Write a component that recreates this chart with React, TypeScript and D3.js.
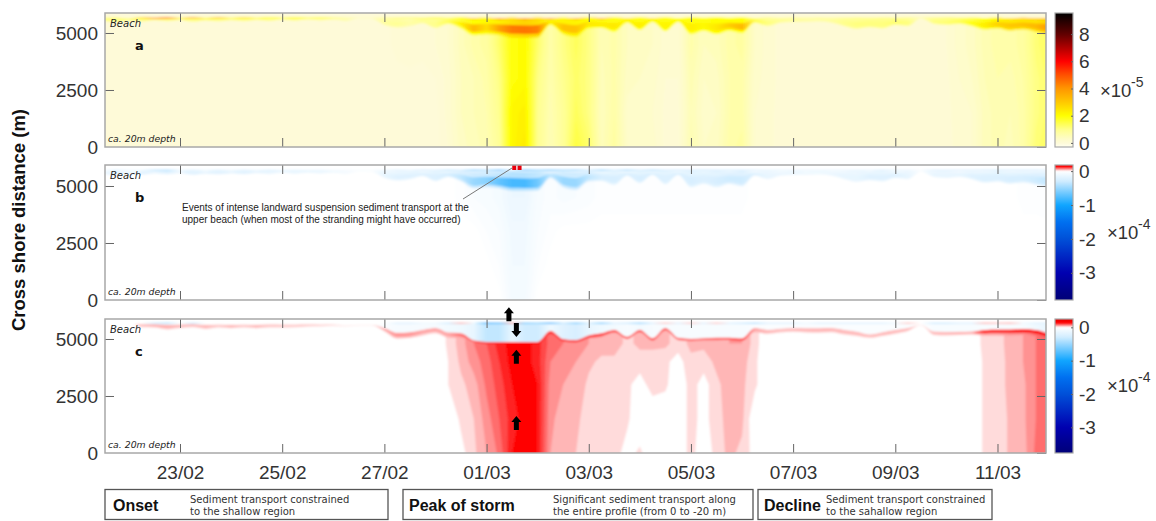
import React, { useEffect, useRef } from 'react';
import * as d3 from 'd3';

// every array below holds one value per 6 h sample, 21/02 12:00 -> 12/03 00:00 (75 samples)
const times = d3.utcHour.range(new Date(Date.UTC(2014, 1, 21, 12)), new Date(Date.UTC(2014, 2, 12, 6)), 6);
const tickDates = [[1, 23], [1, 25], [1, 27], [2, 1], [2, 3], [2, 5], [2, 7], [2, 9], [2, 11]].map(([m, d]) => new Date(Date.UTC(2014, m, d)));
const yTicks = [0, 2500, 5000];

// panel a, x10^-5, by depth row
const a0 = [
  0,0,0,0,0,0,0,0,0,0,0,0,0,0,0,
  0,0,0,0,0,0,0,0,0,0,0,0,.15,.4,.5,
  .6,.9,2.2,2.4,1,.55,.9,1.6,1.3,.5,.8,.35,.3,.3,.12,
  .12,.6,.35,.4,.7,.8,.25,.2,.1,.08,.08,.08,.08,.08,.08,
  .08,.08,.08,.08,.08,.1,.1,.2,.25,.5,.6,.5,.7,1.2,1.4];
const a1500 = [
  0,0,0,0,0,0,0,0,0,0,0,0,0,0,0,
  0,0,0,0,0,0,0,0,0,0,0,0,.2,.45,.55,
  .65,1,2.2,2.3,1,.6,.9,1.4,1.1,.45,.75,.3,.3,.25,.12,
  .12,.55,.3,.35,.65,.7,.25,.2,.1,.08,.08,.08,.08,.08,.08,
  .08,.08,.08,.08,.08,.1,.12,.2,.25,.5,.6,.55,.7,1.1,1.3];
const a3000 = [
  0,0,0,0,0,0,0,0,0,0,0,0,0,0,0,
  0,0,0,0,0,0,0,0,0,0,0,.05,.2,.45,.55,
  .7,1.1,2,2.1,1.1,.65,1,1.3,1.1,.5,.7,.4,.35,.3,.15,
  .15,.6,.35,.4,.65,.7,.3,.2,.12,.1,.08,.08,.08,.08,.08,
  .08,.08,.08,.08,.08,.1,.12,.25,.35,.55,.65,.6,.75,1.1,1.3];
const a4500 = [
  0,0,0,0,0,0,0,0,0,0,0,0,0,0,0,
  0,0,0,0,0,0,0,0,.1,.15,.1,.15,.25,.5,.7,
  .8,1.3,2,2.1,1.3,.7,1.1,1.4,1.1,.55,.7,.45,.4,.35,.2,
  .2,.7,.45,.5,.7,.8,.35,.2,.12,.1,.1,.1,.1,.1,.1,
  .1,.1,.1,.1,.08,.12,.15,.3,.4,.6,.7,.7,.8,1.2,1.4];
const aBand = [
  .8,1,.9,.9,.9,.9,.9,.9,.9,.9,.9,.9,.9,.9,.9,
  .9,.8,.8,.7,.5,.3,.3,.7,.7,.6,.8,.9,1.1,1.6,2,
  2.1,2.3,2.6,2.8,2.6,1.9,2.2,2.2,2,1.9,1.9,1.9,1.9,1.9,1.9,
  1.9,1.9,1.9,2,2,2,1.2,.9,.8,.7,.6,.6,.7,.9,.9,
  1,1,1,.9,.3,.9,1,1.1,1.5,1.9,2.2,2.4,2.4,2.5,2.8];
const aCore = [
  1.1,1.1,1.1,1.1,1.1,1.1,1.1,1.1,1.1,1.1,1.1,1.1,1.1,1.1,1.1,
  1.1,1,1,.8,.6,.3,.3,.8,.9,.7,.9,1,1.4,2.2,3.3,
  2.6,3.8,4.4,4.5,4.3,2.2,3.1,3.1,2.4,2.3,2.4,2.1,2.3,2,2.2,
  2,2.3,2.1,2.4,2.9,3.3,1.5,1.1,.9,.8,.7,.7,.8,1,1.1,
  1.1,1.1,1.2,1.1,.3,1.1,1.2,1.4,1.9,2.3,2.8,3,3.1,3.3,3.9];
const aLine = [
  1.2,1.2,1,2.5,4,4.5,1.5,3.5,1.5,3,1.2,2.5,1.2,2,1,
  2,1,1.5,.8,.5,.2,.2,.8,1.2,1,1.5,1.5,1.5,2,3,
  2,4,2.5,4,2.5,4,2,3.5,2,3.5,2,2.5,2,2.5,2,
  2,2,2,2,2,2,1.2,1,.9,.8,.8,.8,.8,1,1,
  1,1,1.2,1,.5,1.2,1.2,1.5,1.5,2,2.2,2.5,3,3,3];

// shoreline shared by panels a and b, metres
const beachTop = [
  5640,5650,5620,5660,5640,5660,5640,5670,5640,5670,5650,5670,5650,5680,5660,
  5670,5670,5680,5670,5680,5680,5680,5660,5650,5670,5640,5660,5640,5660,5630,
  5650,5620,5650,5620,5650,5620,5650,5620,5660,5620,5660,5620,5660,5630,5660,
  5630,5660,5640,5660,5640,5660,5630,5660,5640,5660,5650,5660,5650,5650,5660,
  5650,5660,5640,5660,5680,5650,5660,5640,5650,5630,5650,5620,5640,5620,5640];
const bandLow = [
  5530,5480,5540,5500,5560,5520,5570,5490,5550,5510,5560,5520,5570,5530,5590,
  5540,5590,5550,5590,5520,5640,5610,5350,5240,5300,5430,5220,5400,5200,4900,
  4950,4900,4790,4790,4800,5350,4950,4830,5200,5220,5050,5450,5130,5480,5080,
  5480,4950,5100,4950,5100,4990,5450,5300,5450,5480,5480,5500,5450,5300,5180,
  5250,5200,5350,5300,5620,5400,5350,5400,5300,5150,5200,5100,5150,5050,4950];

// panel b, x10^-4
const b0 = [
  0,0,0,0,0,0,0,0,0,0,0,0,0,0,0,
  0,0,0,0,0,0,0,0,0,0,0,0,0,0,0,
  0,0,-.08,-.08,0,0,0,0,0,0,0,0,0,0,0,
  0,0,0,0,0,0,0,0,0,0,0,0,0,0,0,
  0,0,0,0,0,0,0,0,0,0,0,0,0,0,0];
const b1500 = [
  0,0,0,0,0,0,0,0,0,0,0,0,0,0,0,
  0,0,0,0,0,0,0,0,0,0,0,0,0,0,0,
  0,-.03,-.09,-.09,-.03,0,0,0,0,0,0,0,0,0,0,
  0,0,0,0,0,0,0,0,0,0,0,0,0,0,0,
  0,0,0,0,0,0,0,0,0,0,0,0,0,0,0];
const b3000 = [
  0,0,0,0,0,0,0,0,0,0,0,0,0,0,0,
  0,0,0,0,0,0,0,0,0,0,0,0,0,0,0,
  -.03,-.05,-.1,-.1,-.05,-.02,0,0,0,0,0,0,0,0,0,
  0,0,0,0,0,0,0,0,0,0,0,0,0,0,0,
  0,0,0,0,0,0,0,0,0,0,0,0,0,0,0];
const b4500 = [
  0,0,0,0,0,0,0,0,0,0,0,0,0,0,0,
  0,0,0,0,0,0,0,0,0,0,0,0,0,-.02,-.05,
  -.06,-.08,-.13,-.13,-.06,-.04,-.06,-.05,-.04,-.02,-.02,-.02,-.02,-.02,-.02,
  -.02,-.02,-.02,-.02,-.02,-.02,0,0,0,0,0,0,0,0,0,
  0,0,0,0,0,0,0,0,0,0,0,0,-.02,-.02,-.03];
const bBand = [
  -.12,-.15,-.15,-.15,-.18,-.18,-.15,-.15,-.15,-.15,-.15,-.15,-.15,-.12,-.12,
  -.12,-.12,-.12,-.1,-.06,-.03,-.03,-.12,-.15,-.15,-.15,-.18,-.18,-.22,-.3,
  -.3,-.35,-.4,-.4,-.35,-.25,-.3,-.3,-.25,-.18,-.18,-.18,-.18,-.18,-.18,
  -.18,-.18,-.18,-.18,-.2,-.2,-.15,-.12,-.12,-.1,-.08,-.08,-.1,-.12,-.12,
  -.15,-.15,-.15,-.12,-.03,-.12,-.12,-.12,-.15,-.18,-.18,-.18,-.18,-.2,-.2];
const bCore = [
  -.15,-.2,-.2,-.2,-.2,-.2,-.2,-.2,-.2,-.2,-.2,-.2,-.2,-.15,-.15,
  -.15,-.15,-.12,-.1,-.06,-.03,-.03,-.15,-.2,-.2,-.2,-.22,-.25,-.35,-.5,
  -.55,-.7,-.8,-.8,-.65,-.35,-.5,-.5,-.35,-.25,-.25,-.22,-.25,-.22,-.22,
  -.22,-.25,-.22,-.25,-.3,-.3,-.2,-.15,-.12,-.12,-.1,-.1,-.12,-.15,-.15,
  -.2,-.2,-.2,-.15,-.03,-.15,-.15,-.15,-.2,-.22,-.22,-.25,-.25,-.3,-.35];
const bLine = [
  -.05,-.2,-.1,-.1,-.35,-.4,-.1,-.2,-.1,-.2,-.1,-.2,-.1,-.2,-.1,
  -.15,-.1,-.12,-.06,-.06,-.03,-.03,-.1,-.2,-.12,-.25,-.2,-.35,-.25,-.55,
  -.4,-.7,-.2,-.7,-.5,-.6,-.45,-.5,-.25,-.5,-.25,-.45,-.25,-.4,-.25,
  -.3,-.25,-.3,-.25,-.25,-.25,-.2,-.15,-.15,-.12,-.12,-.12,-.12,-.12,-.15,
  -.12,-.2,-.15,-.12,-.03,-.2,-.2,-.2,-.2,-.25,-.25,-.25,-.25,-.25,-.2];

// panel c, x10^-4
const c0 = [
  0,0,0,0,0,0,0,0,0,0,0,0,0,0,0,
  0,0,0,0,0,0,0,0,0,0,0,0,0,.012,.035,
  .06,.085,.14,.15,.14,.06,.04,.04,.03,.03,.03,.01,.025,0,0,
  0,.03,0,.03,.045,.035,.01,0,0,0,0,0,0,0,0,
  0,0,0,0,0,0,0,0,0,.025,.025,.045,.05,.085,.09];
const c1500 = [
  0,0,0,0,0,0,0,0,0,0,0,0,0,0,0,
  0,0,0,0,0,0,0,0,0,0,0,0,0,.025,.04,
  .07,.1,.13,.15,.14,.065,.05,.05,.02,.03,.035,.025,0,0,0,
  0,.03,.01,.035,.045,.045,0,0,0,0,0,0,0,0,0,
  0,0,0,0,0,0,0,0,0,.025,.025,.045,.055,.08,.085];
const c3000 = [
  0,0,0,0,0,0,0,0,0,0,0,0,0,0,0,
  0,0,0,0,0,0,0,0,0,0,0,0,.02,.035,.05,
  .085,.11,.14,.15,.14,.07,.06,.055,.035,.03,.035,.025,.01,.03,.025,
  0,.03,.01,.035,.05,.045,.025,0,0,0,0,0,0,0,0,
  0,0,0,0,0,0,0,0,0,.025,.025,.05,.055,.08,.08];
const c4000 = [
  0,0,0,0,0,0,0,0,0,0,0,0,0,0,0,
  0,0,0,0,0,0,0,0,0,0,0,0,.02,.045,.07,
  .09,.12,.15,.15,.13,.08,.07,.06,.045,.035,.035,.025,.03,.03,.025,
  .01,.035,.03,.045,.05,.05,.025,0,0,0,0,0,0,0,0,
  0,0,0,0,0,0,0,0,0,.025,.025,.05,.06,.08,.08];
const c4800 = [
  0,0,0,0,0,0,0,0,0,0,0,0,0,0,0,
  0,0,0,0,0,0,0,0,0,0,0,0,.025,.05,.08,
  .1,.13,.15,.15,.13,.09,.08,.07,.06,.05,.05,.035,.045,.045,.045,
  .03,.045,.045,.055,.06,.06,.03,0,0,0,0,0,0,0,0,
  0,0,0,0,0,0,0,0,0,.03,.03,.05,.06,.08,.09];
const cTop = [
  5700,5700,5700,5650,5650,5620,5640,5660,5620,5640,5620,5640,5620,5650,5640,
  5640,5650,5640,5650,5600,5620,5620,5480,5270,5300,5400,5480,5280,5250,4930,
  4870,4870,4870,4870,4870,5350,4990,4950,5150,5250,5400,5100,5400,5030,5480,
  5050,5000,5030,5050,5060,5020,5480,5400,5450,5480,5470,5470,5480,5400,5320,
  5200,5300,5400,5480,5620,5330,5310,5320,5330,5400,5420,5420,5440,5400,5250];
const cLow = [
  5700,5700,5700,5510,5500,5420,5480,5510,5440,5500,5470,5500,5470,5500,5500,
  5510,5550,5560,5570,5550,5590,5590,5330,5020,5050,5150,5250,5060,5040,4860,
  4780,4780,4780,4780,4780,5200,4880,4850,5030,5100,5280,4990,5280,4920,5350,
  4950,4900,4940,4950,4960,4920,5300,5230,5280,5320,5290,5270,5300,5200,5130,
  5050,5130,5230,5350,5600,5180,5150,5170,5200,5150,5150,5150,5180,5130,5000];
const cBand = [
  0,0,0,.025,.03,.03,.03,.025,.03,.025,.03,.025,.03,.025,.025,
  .025,.025,.025,.015,.01,.01,.01,.03,.04,.04,.03,.03,.04,.05,.07,
  .1,.11,.13,.15,.15,.09,.09,.09,.09,.08,.08,.07,.07,.07,.06,
  .06,.06,.07,.07,.08,.09,.04,.035,.03,.03,.03,.03,.03,.03,.03,
  .03,.03,.03,.03,.01,.03,.03,.03,.03,.05,.05,.06,.06,.08,.09];
const cEdge = [
  0,0,0,.04,.045,.045,.04,.035,.04,.03,.04,.03,.04,.03,.03,
  .03,.03,.03,.02,.012,.012,.012,.05,.06,.06,.05,.05,.05,.08,.12,
  .13,.15,.15,.15,.15,.14,.14,.14,.14,.12,.12,.12,.12,.12,.11,
  .1,.12,.1,.12,.14,.14,.05,.04,.035,.035,.04,.04,.04,.04,.04,
  .04,.04,.04,.04,.012,.04,.04,.045,.05,.14,.15,.15,.15,.15,.15];
const cShallow = [
  0,0,0,0,0,0,0,0,0,0,0,0,0,0,0,
  0,0,0,0,0,0,0,-.03,-.06,-.06,-.06,-.06,-.08,-.1,-.15,
  -.35,-.35,-.15,-.3,-.3,-.1,-.2,-.25,-.15,-.1,-.08,-.05,-.08,-.05,-.05,
  -.05,-.05,-.05,-.05,-.05,-.05,-.03,-.03,-.03,-.03,-.03,-.03,-.03,-.03,-.03,
  -.03,-.03,-.03,-.03,0,-.05,-.05,-.05,-.05,-.05,-.05,-.05,-.05,-.1,-.15];
const cLine = [
  0,0,0,0,-.3,-.4,0,-.3,0,0,0,0,0,0,0,
  0,0,0,0,0,0,0,0,-.2,-.2,-.1,-.1,-.3,.04,-.1,
  -.8,-.7,.05,-.6,-.5,-.8,-.3,-.6,-.2,-.6,-.2,-.3,-.5,-.2,.03,
  -.2,.03,-.2,.03,-.2,-.3,-.4,-.2,-.2,-.2,-.1,-.2,-.2,-.2,-.2,
  -.2,-.2,-.1,.03,0,-.3,-.3,-.2,-.2,.04,.03,.04,-.1,-.2,-.2];

// red event marks at top of panel b, arrows of panel c [time, metres, direction]
const eventTimes = [new Date(Date.UTC(2014, 2, 1, 13)), new Date(Date.UTC(2014, 2, 1, 15, 30))];
const arrows: [Date, number, number][] = [
  [new Date(Date.UTC(2014, 2, 1, 10, 30)), 6090, 1],
  [new Date(Date.UTC(2014, 2, 1, 14)), 5400, -1],
  [new Date(Date.UTC(2014, 2, 1, 14)), 4220, 1],
  [new Date(Date.UTC(2014, 2, 1, 14)), 1320, 1]
];

const W = 1156;
const H = 521;
const SANS = '"Liberation Sans", Arial, sans-serif';
const DEJA = '"DejaVu Sans", sans-serif';
const GREY = '#333';

const heatColor = d3.scaleLinear<string>()
  .domain([-.3, 0, .3, 1, 2, 3, 4, 5, 6, 7, 8, 9.55])
  .range(['#fffff0', '#fefad8', '#fefcc8', '#ffff8c', '#ffff00', '#ffc800', '#ff9600', '#ff5000', '#ff0000', '#b00000', '#600000', '#000000']);
const blueRed = d3.scaleLinear<string>()
  .domain([-3.77, -3, -2, -1.5, -1, -.3, 0, .14, .27])
  .range(['#000078', '#0000b0', '#0050d8', '#0070f0', '#10a5ff', '#d0ecff', '#ffffff', '#ff0000', '#e00000'])
  .clamp(true);

const panels = [
  { top: 13, bottom: 147, yMax: 5877 },
  { top: 165, bottom: 300, yMax: 5921 },
  { top: 319, bottom: 453, yMax: 5877 }
];

export default function App() {
  const ref = useRef<SVGSVGElement>(null);

  useEffect(() => {
    const svg = d3.select(ref.current);
    svg.selectAll('*').remove();
    const defs = svg.append('defs');
    defs.append('filter').attr('id', 'soft').attr('filterUnits', 'userSpaceOnUse')
      .attr('x', 0).attr('y', 0).attr('width', W).attr('height', H)
      .append('feGaussianBlur').attr('stdDeviation', 1.2);

    const x = d3.scaleUtc()
      .domain([new Date(Date.UTC(2014, 1, 21, 12, 46)), new Date(Date.UTC(2014, 2, 11, 22, 47))])
      .range([105, 1046]);

    const gradient = (id: string, values: number[], color: (v: number) => string) => {
      const x0 = x(times[0]);
      const x1 = x(times[times.length - 1]);
      const g = defs.append('linearGradient').attr('id', id).attr('gradientUnits', 'userSpaceOnUse')
        .attr('x1', x0).attr('x2', x1).attr('y1', 0).attr('y2', 0);
      values.forEach((v, i) => {
        g.append('stop').attr('offset', (x(times[i]) - x0) / (x1 - x0)).attr('stop-color', color(v));
      });
      return `url(#${id})`;
    };

    panels.forEach((p, k) => {
      const y = d3.scaleLinear().domain([0, p.yMax]).range([p.bottom, p.top]);
      defs.append('clipPath').attr('id', `clip${k}`).append('rect')
        .attr('x', 105).attr('y', p.top).attr('width', 941).attr('height', p.bottom - p.top);

      const heat = svg.append('g').attr('clip-path', `url(#clip${k})`)
        .append('g').attr('filter', 'url(#soft)');
      const area = (lo: number[], hi: number[], fill: string) => {
        heat.append('path').attr('fill', fill).attr('d', d3.area<number>()
          .x((_, i) => x(times[i]))
          .y0((_, i) => y(lo[i]))
          .y1((_, i) => y(hi[i]))
          .curve(d3.curveMonotoneX)(lo));
      };
      const line = (ys: number[], fill: string, width: number) => {
        heat.append('path').attr('fill', 'none').attr('stroke', fill).attr('stroke-width', width)
          .attr('d', d3.line<number>().x((_, i) => x(times[i])).y(d => y(d)).curve(d3.curveMonotoneX)(ys));
      };
      const grid = (rows: number[][], rowM: number[], levels: number[], sign: number, color: (v: number) => string) => {
        const n = times.length;
        const cx = d3.scaleLinear().domain(d3.range(n).map(i => i + .5)).range(times.map(t => x(t)));
        const cy = d3.scaleLinear().domain(rowM.map((_, i) => i + .5)).range(rowM.map(m => y(m)));
        const path = d3.geoPath(d3.geoTransform({
          point(px: number, py: number) { (this as any).stream.point(cx(px), cy(py)); }
        }));
        const flat = rows.flat().map(v => v * sign);
        d3.contours().size([n, rows.length]).thresholds(levels)(flat).forEach((c: any) => {
          heat.append('path').attr('fill', color(c.value * sign)).attr('d', path(c));
        });
      };

      heat.append('rect').attr('x', 0).attr('y', p.top - 20).attr('width', W).attr('height', p.bottom - p.top + 40)
        .attr('fill', k === 0 ? heatColor(0) : '#fff');

      if (k === 0) {
        grid([a0, a1500, a3000, a4500, a4500], [0, 1500, 3000, 4500, 5800], d3.range(.05, 5, .1), 1, heatColor);
        area(bandLow, beachTop, gradient('aBand', aBand, heatColor));
        area(bandLow.map((v, i) => v + (beachTop[i] - v) * .2), bandLow.map((v, i) => v + (beachTop[i] - v) * .65), gradient('aCore', aCore, heatColor));
        area(beachTop, beachTop.map(() => 6000), heatColor(0));
        line(beachTop, gradient('aLine', aLine, heatColor), 1.2);
      } else if (k === 1) {
        grid([b0, b1500, b3000, b4500, b4500], [0, 1500, 3000, 4500, 5900], d3.range(.01, .4, .02), -1, blueRed);
        area(bandLow, beachTop, gradient('bBand', bBand, blueRed));
        area(bandLow.map((v, i) => v + (beachTop[i] - v) * .15), bandLow.map((v, i) => v + (beachTop[i] - v) * .65), gradient('bCore', bCore, blueRed));
        area(beachTop, beachTop.map(() => 6000), '#fff');
        line(beachTop.map(() => 5690), gradient('bLine', bLine, blueRed), 1.4);
      } else {
        grid([c0, c1500, c3000, c4000, c4800, c4800], [0, 1500, 3000, 4000, 4800, 5800], [.02, .04, .06, .08, .1, .12, .14], 1, blueRed);
        area(cLow, cTop, gradient('cBand', cBand, blueRed));
        area(cLow.map((v, i) => v + (cTop[i] - v) * .4), cTop, gradient('cEdge', cEdge, blueRed));
        area(cTop, cTop.map(() => 5760), gradient('cShallow', cShallow, blueRed));
        area(cTop.map(() => 5720), cTop.map(() => 6000), '#fff');
        line(cTop.map(() => 5690), gradient('cLine', cLine, blueRed), 1.4);
      }

      if (k === 1) {
        svg.append('g').selectAll('rect').data(eventTimes).join('rect')
          .attr('x', d => x(d) - 2).attr('y', p.top).attr('width', 4).attr('height', 5).attr('fill', '#e8000c');
      }

      // axes
      const ax = svg.append('g').attr('color', '#666');
      const bottom = ax.append('g').attr('transform', `translate(0,${p.bottom})`)
        .call(d3.axisBottom(x).tickValues(tickDates).tickSize(-9).tickPadding(13)
          .tickFormat(d3.utcFormat('%d/%m') as any));
      const topAxis = ax.append('g').attr('transform', `translate(0,${p.top})`)
        .call(d3.axisTop(x).tickValues(tickDates).tickSize(-9).tickFormat(() => ''));
      const left = ax.append('g').attr('transform', 'translate(105,0)')
        .call(d3.axisLeft(y).tickValues(yTicks).tickSize(-9).tickPadding(7).tickFormat(d3.format('d') as any));
      const right = ax.append('g').attr('transform', 'translate(1046,0)')
        .call(d3.axisRight(y).tickValues(yTicks).tickSize(-9).tickFormat(() => ''));
      [bottom, topAxis, left, right].forEach(g => g.select('.domain').remove());
      if (k < 2) bottom.selectAll('text').remove();
      bottom.selectAll('text').attr('font-size', 19).attr('font-family', SANS).attr('fill', GREY);
      left.selectAll('text').attr('font-size', 19).attr('font-family', SANS).attr('fill', GREY);
      left.selectAll('.tick').filter((d: any) => d === 0).select('line').remove();
      svg.append('rect').attr('x', 105).attr('y', p.top).attr('width', 941).attr('height', p.bottom - p.top)
        .attr('fill', 'none').attr('stroke', '#a8a8a8').attr('stroke-width', 1.5);

      // small labels in the panel
      const label = (tx: number, ty: number, s: string, fs: number) => svg.append('text').attr('x', tx).attr('y', ty)
        .attr('font-family', DEJA).attr('font-style', 'italic').attr('font-size', fs).attr('fill', '#222').text(s);
      label(110, p.top + 13.5, 'Beach', 10);
      label(108, p.bottom - 5, 'ca. 20m depth', 9.3);
      svg.append('text').attr('x', 135).attr('y', p.top + 37).attr('font-family', DEJA).attr('font-weight', 700)
        .attr('font-size', 13).attr('fill', '#111').text('abc'[k]);

      // colour bar
      const barDomain: [number, number] = k === 0 ? [-.3, 9.55] : k === 1 ? [-3.8, .18] : [-3.77, .25];
      const barScale = d3.scaleLinear().domain(barDomain).range([p.bottom, p.top]);
      const color = k === 0 ? heatColor : blueRed;
      const barId = `bar${k}`;
      const barGrad = defs.append('linearGradient').attr('id', barId).attr('x1', 0).attr('x2', 0).attr('y1', 1).attr('y2', 0);
      d3.range(0, 1.001, .01).forEach(t => {
        barGrad.append('stop').attr('offset', t).attr('stop-color', color(barDomain[0] + t * (barDomain[1] - barDomain[0])));
      });
      svg.append('rect').attr('x', 1055).attr('y', p.top).attr('width', 18).attr('height', p.bottom - p.top)
        .attr('fill', `url(#${barId})`).attr('stroke', '#a8a8a8').attr('stroke-width', 1.2);
      const barAxis = svg.append('g').attr('transform', 'translate(1073,0)').attr('color', '#666')
        .call(d3.axisRight(barScale).tickValues(k === 0 ? [0, 2, 4, 6, 8] : [-3, -2, -1, 0]).tickSize(-2).tickPadding(6)
          .tickFormat((d: any) => String(d)));
      barAxis.select('.domain').remove();
      barAxis.selectAll('text').attr('font-size', 19).attr('font-family', SANS).attr('fill', GREY);

      const mid = [90, 232, 385][k];
      const mx = [1100, 1107, 1107][k];
      svg.append('text').attr('x', mx).attr('y', mid + 7).attr('font-family', SANS).attr('font-size', 18.5).attr('fill', GREY).text('×10');
      svg.append('text').attr('x', mx + 31).attr('y', mid - 3).attr('font-family', SANS).attr('font-size', 14).attr('fill', GREY).text(k === 0 ? '-5' : '-4');
    });

    // arrows on panel c
    const yc = d3.scaleLinear().domain([0, panels[2].yMax]).range([panels[2].bottom, panels[2].top]);
    svg.append('g').selectAll('path').data(arrows).join('path').attr('fill', '#000').attr('d', ([t, m, dir]) => {
      const cx = x(t);
      const cy = yc(m);
      const s = -dir;
      const path = d3.path();
      path.moveTo(cx, cy + s * 7);
      path.lineTo(cx + 5, cy + s * 1);
      path.lineTo(cx + 2.5, cy + s * 1);
      path.lineTo(cx + 2.5, cy - s * 7);
      path.lineTo(cx - 2.5, cy - s * 7);
      path.lineTo(cx - 2.5, cy + s * 1);
      path.lineTo(cx - 5, cy + s * 1);
      path.closePath();
      return path.toString();
    });

    // annotation on panel b
    svg.append('line').attr('x1', 463).attr('y1', 199).attr('x2', 512).attr('y2', 168).attr('stroke', '#777').attr('stroke-width', 1);
    [['Events of intense landward suspension sediment transport at the', 211], ['upper beach (when most of the stranding might have occurred)', 222.5]].forEach(([s, ty]) => {
      svg.append('text').attr('x', 182).attr('y', ty as number).attr('font-family', SANS).attr('font-size', 10).attr('fill', '#222').text(s as string);
    });

    svg.append('text').attr('transform', 'translate(25,220) rotate(-90)').attr('text-anchor', 'middle')
      .attr('font-family', SANS).attr('font-weight', 700).attr('font-size', 18.5).attr('fill', '#111').text('Cross shore distance (m)');

    // phase boxes under the chart
    const boxes = [
      { x: 105, w: 283, title: 'Onset', tx: 113, sx: 190, l1: 'Sediment transport constrained', l2: 'to the shallow region' },
      { x: 403, w: 350, title: 'Peak of storm', tx: 409, sx: 553, l1: 'Significant sediment transport along', l2: 'the entire profile (from 0 to -20 m)' },
      { x: 758, w: 234, title: 'Decline', tx: 764, sx: 826, l1: 'Sediment transport constrained', l2: 'to the sahallow region' }
    ];
    boxes.forEach(b => {
      svg.append('rect').attr('x', b.x).attr('y', 489.5).attr('width', b.w).attr('height', 30)
        .attr('fill', '#fff').attr('stroke', '#555').attr('stroke-width', 1.3);
      svg.append('text').attr('x', b.tx).attr('y', 510.5).attr('font-family', SANS).attr('font-weight', 700)
        .attr('font-size', 16).attr('fill', '#111').text(b.title);
      svg.append('text').attr('x', b.sx).attr('y', 503).attr('font-family', DEJA).attr('font-size', 10).attr('fill', '#333').text(b.l1);
      svg.append('text').attr('x', b.sx).attr('y', 514.5).attr('font-family', DEJA).attr('font-size', 10).attr('fill', '#333').text(b.l2);
    });
  }, []);

  return <svg ref={ref} width={W} height={H} style={{ position: 'absolute', left: 0, top: 0, background: '#fff' }} />;
}
